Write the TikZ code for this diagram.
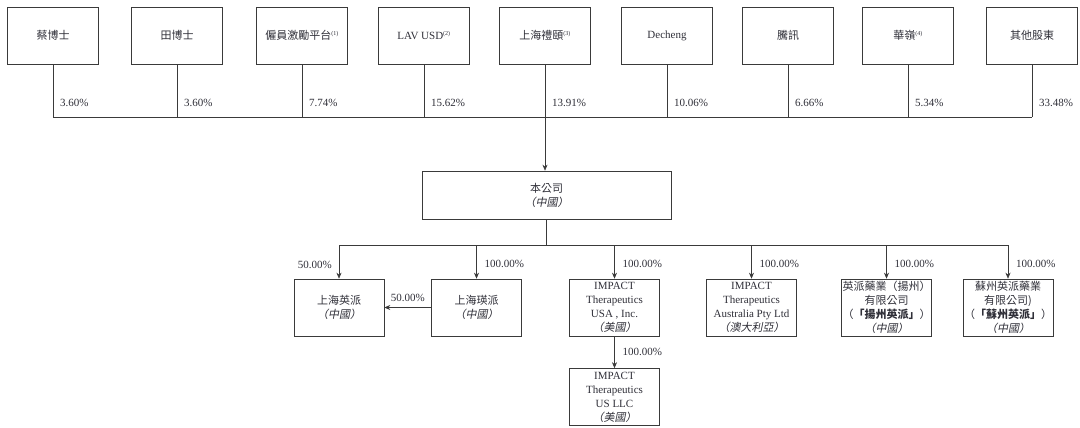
\documentclass[tikz,border=0pt]{standalone}
\usepackage{fontspec}
\setmainfont{Liberation Serif}
\newfontfamily\cjk{Noto Sans CJK TC}
\newfontfamily\cjkit{Noto Sans CJK TC}[FakeSlant=0.2]
\usetikzlibrary{arrows.meta,positioning,calc}

\definecolor{linegray}{HTML}{3A3A3A}
\definecolor{txtgray}{HTML}{2F2F38}

\newcommand\notemark[1]{\textsuperscript{\fontsize{6}{6}\selectfont(#1)}}
\newcommand\region[1]{{\cjkit （#1）}}

\tikzset{
    holder/.style={draw=linegray, line width=0.6pt, minimum width=91pt, minimum height=57pt,
        align=center, inner sep=1pt, text=txtgray},
    subsid/.style={draw=linegray, line width=0.6pt, minimum width=90pt, minimum height=57pt,
        align=center, inner sep=1pt, text=txtgray},
    pct/.style={text=txtgray, inner sep=1pt},
    link/.style={draw=linegray, line width=0.6pt},
    own/.style={link, -{Stealth[length=6pt,width=5pt]}}
}

\begin{document}
\begin{tikzpicture}[x=1pt, y=-1pt, font=\fontsize{11}{14}\selectfont]
    \useasboundingbox (0,0) rectangle (1080,428);

    % Shareholders
    \coordinate (topbus) at (0,117);
    \foreach \x/\txt/\p [count=\i from 0] in {
        53/{\cjk 蔡博士}/3.60,
        177/{\cjk 田博士}/3.60,
        302/{\cjk 僱員激勵平台}\notemark{1}/7.74,
        424/{LAV USD\notemark{2}}/15.62,
        545/{\cjk 上海禮頤}\notemark{3}/13.91,
        667/{Decheng}/10.06,
        788/{\cjk 騰訊}/6.66,
        908/{\cjk 華嶺}\notemark{4}/5.34,
        1032/{\cjk 其他股東}/33.48} {
        \node[holder] (h\i) at (\x,35.5) {\txt};
        \coordinate (f\i) at (h\i.south |- topbus);
        \draw[link] (h\i.south) -- (f\i);
        \node[pct, anchor=west] at ($(f\i)+(6,-14)$) {\p\%};
    }
    \draw[link] (f0) -- (f8);

    % Company
    \node[holder, minimum width=249pt, minimum height=48pt] (co) at (546.5,195)
        {{\cjk 本公司}\\\region{中國}};
    \draw[own] (f4) -- (f4 |- co.north);

    % Subsidiaries
    \node[subsid] (ypsh) at (339,307.5) {{\cjk 上海英派}\\\region{中國}};
    \node[subsid] (yipai) at (476.5,307.5) {{\cjk 上海瑛派}\\\region{中國}};
    \node[subsid] (usa) at (614.5,307.5) {IMPACT\\Therapeutics\\USA , Inc.\\\region{美國}};
    \node[subsid] (aus) at (751.5,307.5) {IMPACT\\Therapeutics\\Australia Pty Ltd\\\region{澳大利亞}};
    \node[subsid] (yz) at (886.5,307.5)
        {{\cjk 英派藥業（揚州）}\\{\cjk 有限公司}\\{\cjk （\textbf{「揚州英派」}）}\\\region{中國}};
    \node[subsid] (sz) at (1008,307.5)
        {{\cjk 蘇州英派藥業}\\{\cjk 有限公司)}\\{\cjk （\textbf{「蘇州英派」}）}\\\region{中國}};
    \node[subsid] (llc) at (614.5,397) {IMPACT\\Therapeutics\\US LLC\\\region{美國}};

    \coordinate (mid) at (co.south |- 0,245);
    \draw[link] (co.south) -- (mid);
    \draw[link] (ypsh.north |- mid) -- (sz.north |- mid);

    \draw[own] (ypsh.north |- mid) -- (ypsh.north);
    \node[pct, anchor=east] at ($(ypsh.north |- mid)+(-6,20)$) {50.00\%};
    \foreach \s in {yipai, usa, aus, yz, sz} {
        \draw[own] (\s.north |- mid) -- (\s.north);
        \node[pct, anchor=west] at ($(\s.north |- mid)+(7,19)$) {100.00\%};
    }

    \draw[own] (yipai.west) -- node[pct, above=5pt] {50.00\%} (ypsh.east);
    \draw[own] (usa.south) -- (llc.north);
    \node[pct, anchor=west] at ($(usa.south)!0.5!(llc.north)+(7,0)$) {100.00\%};
\end{tikzpicture}
\end{document}
